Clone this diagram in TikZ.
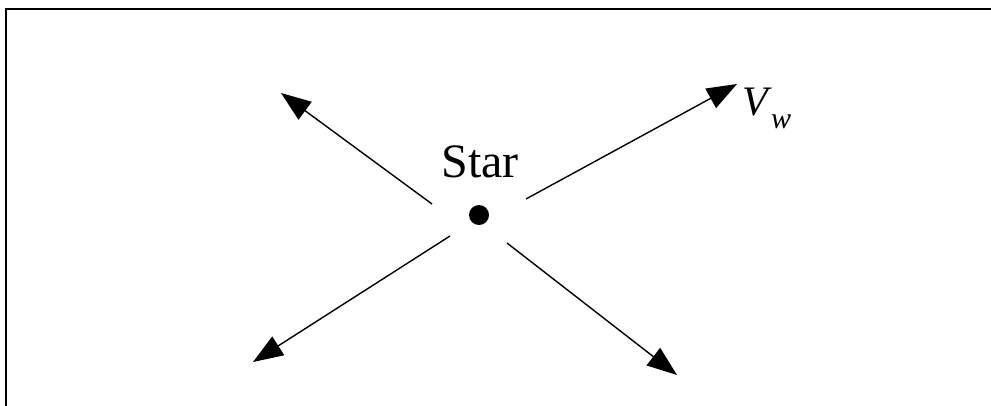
\documentclass[tikz,border=0pt]{standalone}
\usepackage{fontspec}
\setmainfont{Liberation Serif}
\usetikzlibrary{arrows.meta}
\begin{document}
\begin{tikzpicture}[x=1pt,y=-1pt,
  wind/.style={line width=1.4pt,-{Triangle[length=30pt,width=22pt]}},
  frameline/.style={line width=2.4pt},
  lbl/.style={inner sep=0pt,anchor=base}]
\useasboundingbox (0,0) rectangle (991,405);
\draw[frameline] (6,406) -- (6,9) -- (992,9);
\node[circle,fill=black,inner sep=0pt,minimum size=20pt] (dot) at (479,215) {};
\node[lbl] (star) at (480,177) {\fontsize{48}{50}\selectfont Star};
\coordinate (s1) at (526,199);
\coordinate (t1) at (737,84);
\coordinate (s2) at (432,204);
\coordinate (t2) at (281,93);
\coordinate (s3) at (450,236);
\coordinate (t3) at (253,362);
\coordinate (s4) at (507,243);
\coordinate (t4) at (677,375);
\draw[wind] (s1) -- (t1);
\draw[wind] (s2) -- (t2);
\draw[wind] (s3) -- (t3);
\draw[wind] (s4) -- (t4);
\node[lbl,anchor=base west] (vw) at (742,115) {\fontsize{42}{44}\selectfont\itshape V};
\node[lbl,anchor=base west] (sub) at (771,128) {\fontsize{30}{32}\selectfont\itshape w};
\end{tikzpicture}
\end{document}
